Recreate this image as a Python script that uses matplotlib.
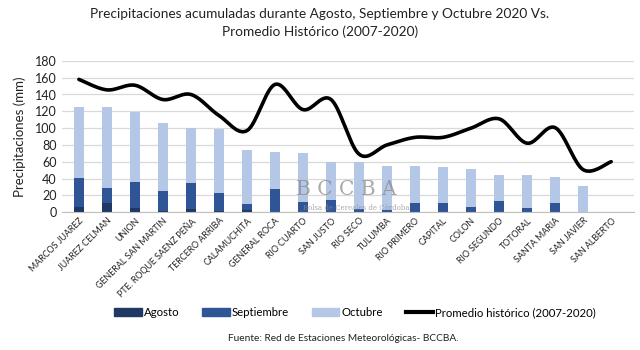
import numpy as np
import matplotlib
matplotlib.use("Agg")
import matplotlib.pyplot as plt
from matplotlib.lines import Line2D
from matplotlib.patches import Patch

categories = ["MARCOS JUAREZ", "JUAREZ CELMAN", "UNION", "GENERAL SAN MARTIN",
              "PTE. ROQUE SAENZ PEÑA", "TERCERO ARRIBA", "CALAMUCHITA", "GENERAL ROCA",
              "RIO CUARTO", "SAN JUSTO", "RIO SECO", "TULUMBA", "RIO PRIMERO", "CAPITAL",
              "COLON", "RIO SEGUNDO", "TOTORAL", "SANTA MARIA", "SAN JAVIER", "SAN ALBERTO"]
# cumulative tops
agosto = [6.5, 10.5, 5, 1, 3.5, 1, 2.5, 0, 0, 0, 0, 0, 0, 0, 0, 0, 0, 0, 0, 0]
septiembre_top = [41, 29, 36, 25.5, 35, 23, 10, 28, 11.5, 14, 3.5, 2.5, 11, 10.5, 6, 13.5, 4.5, 10.5, 0, 0]
octubre_top = [125.5, 125, 119.5, 106, 100, 98.5, 74, 72, 70.5, 59.5, 59.5, 55, 54.5, 54, 51, 44, 44, 41.5, 31.5, 0]
promedio = [158, 145.5, 151, 134, 140, 115, 97, 152, 122, 134, 69, 80, 89, 89, 100, 111, 82, 100.5, 50.5, 60]

septiembre = [s - a for s, a in zip(septiembre_top, agosto)]
octubre = [o - s for o, s in zip(octubre_top, septiembre_top)]

c_ago = "#1f3864"
c_sep = "#2f5597"
c_oct = "#b4c7e7"

plt.rcParams['font.family'] = ['Lato', 'DejaVu Sans']

fig = plt.figure(figsize=(6.4, 3.5), dpi=100)
ax = fig.add_axes([0.097, 0.394, 0.893, 0.432])

x = np.arange(len(categories))
w = 0.36
ax.bar(x, agosto, w, color=c_ago, zorder=2)
ax.bar(x, septiembre, w, bottom=agosto, color=c_sep, zorder=2)
ax.bar(x, octubre, w, bottom=septiembre_top, color=c_oct, zorder=2)

# smooth line (Catmull-Rom style, like Excel smoothing)
y = np.array(promedio, dtype=float)
xs, ys = [], []
n = len(y)
for i in range(n - 1):
    p0 = np.array([x[max(i - 1, 0)], y[max(i - 1, 0)]])
    p1 = np.array([x[i], y[i]])
    p2 = np.array([x[i + 1], y[i + 1]])
    p3 = np.array([x[min(i + 2, n - 1)], y[min(i + 2, n - 1)]])
    c1 = p1 + (p2 - p0) / 6.0
    c2 = p2 - (p3 - p1) / 6.0
    t = np.linspace(0, 1, 20)[:, None]
    pts = (1 - t) ** 3 * p1 + 3 * (1 - t) ** 2 * t * c1 + 3 * (1 - t) * t ** 2 * c2 + t ** 3 * p2
    xs.extend(pts[:, 0]); ys.extend(pts[:, 1])
ax.plot(xs, ys, color="black", lw=2.6, zorder=4, solid_capstyle='round')

ax.set_ylim(0, 180)
ax.set_xlim(-0.6, 19.8)
ax.set_yticks(np.arange(0, 181, 20))
ax.yaxis.grid(True, color="#d9d9d9", lw=0.9, zorder=0)
ax.set_axisbelow(True)
for s in ["top", "right", "left"]:
    ax.spines[s].set_visible(False)
ax.spines["bottom"].set_color("#bfbfbf")
ax.tick_params(axis='y', length=0, labelsize=9, colors="#222222", pad=4)
ax.tick_params(axis='x', length=0, pad=3)
ax.set_xticks(x)
ax.set_xticklabels(categories, rotation=45, ha='right', rotation_mode='anchor',
                   fontsize=6.4, color="#222222")
ax.set_ylabel("Precipitaciones (mm)", fontsize=9.5, color="#222222", labelpad=6)

# watermark
ax.text(7.75, 27, "B C C B A", fontsize=14.5, family="DejaVu Serif", color="#8c8c8c",
        alpha=0.75, ha='left', va='center', zorder=5)
ax.text(8.0, 5, "Bolsa de Cereales de Córdoba", fontsize=5, family="DejaVu Serif",
        color="#8c8c8c", alpha=0.75, ha='left', va='center', zorder=5)

fig.text(0.5, 0.96, "Precipitaciones acumuladas durante Agosto, Septiembre y Octubre 2020 Vs.",
         ha='center', va='center', fontsize=9.8, color="#222222")
fig.text(0.5, 0.908, "Promedio Histórico (2007-2020)", ha='center', va='center',
         fontsize=9.8, color="#222222")

handles = [Patch(color=c_ago, label="Agosto"), Patch(color=c_sep, label="Septiembre"),
           Patch(color=c_oct, label="Octubre"),
           Line2D([0], [0], color="black", lw=3, label="Promedio histórico (2007-2020)")]
fig.legend(handles=handles, loc='center', bbox_to_anchor=(0.555, 0.107), ncol=4,
           frameon=False, fontsize=8.2, handlelength=2.4, handleheight=0.6,
           columnspacing=2.0, handletextpad=0.2)

fig.text(0.536, 0.034, "Fuente: Red de Estaciones Meteorológicas- BCCBA.", ha='center',
         va='center', fontsize=7.3, color="#222222")

fig.savefig("out.png", dpi=100)
